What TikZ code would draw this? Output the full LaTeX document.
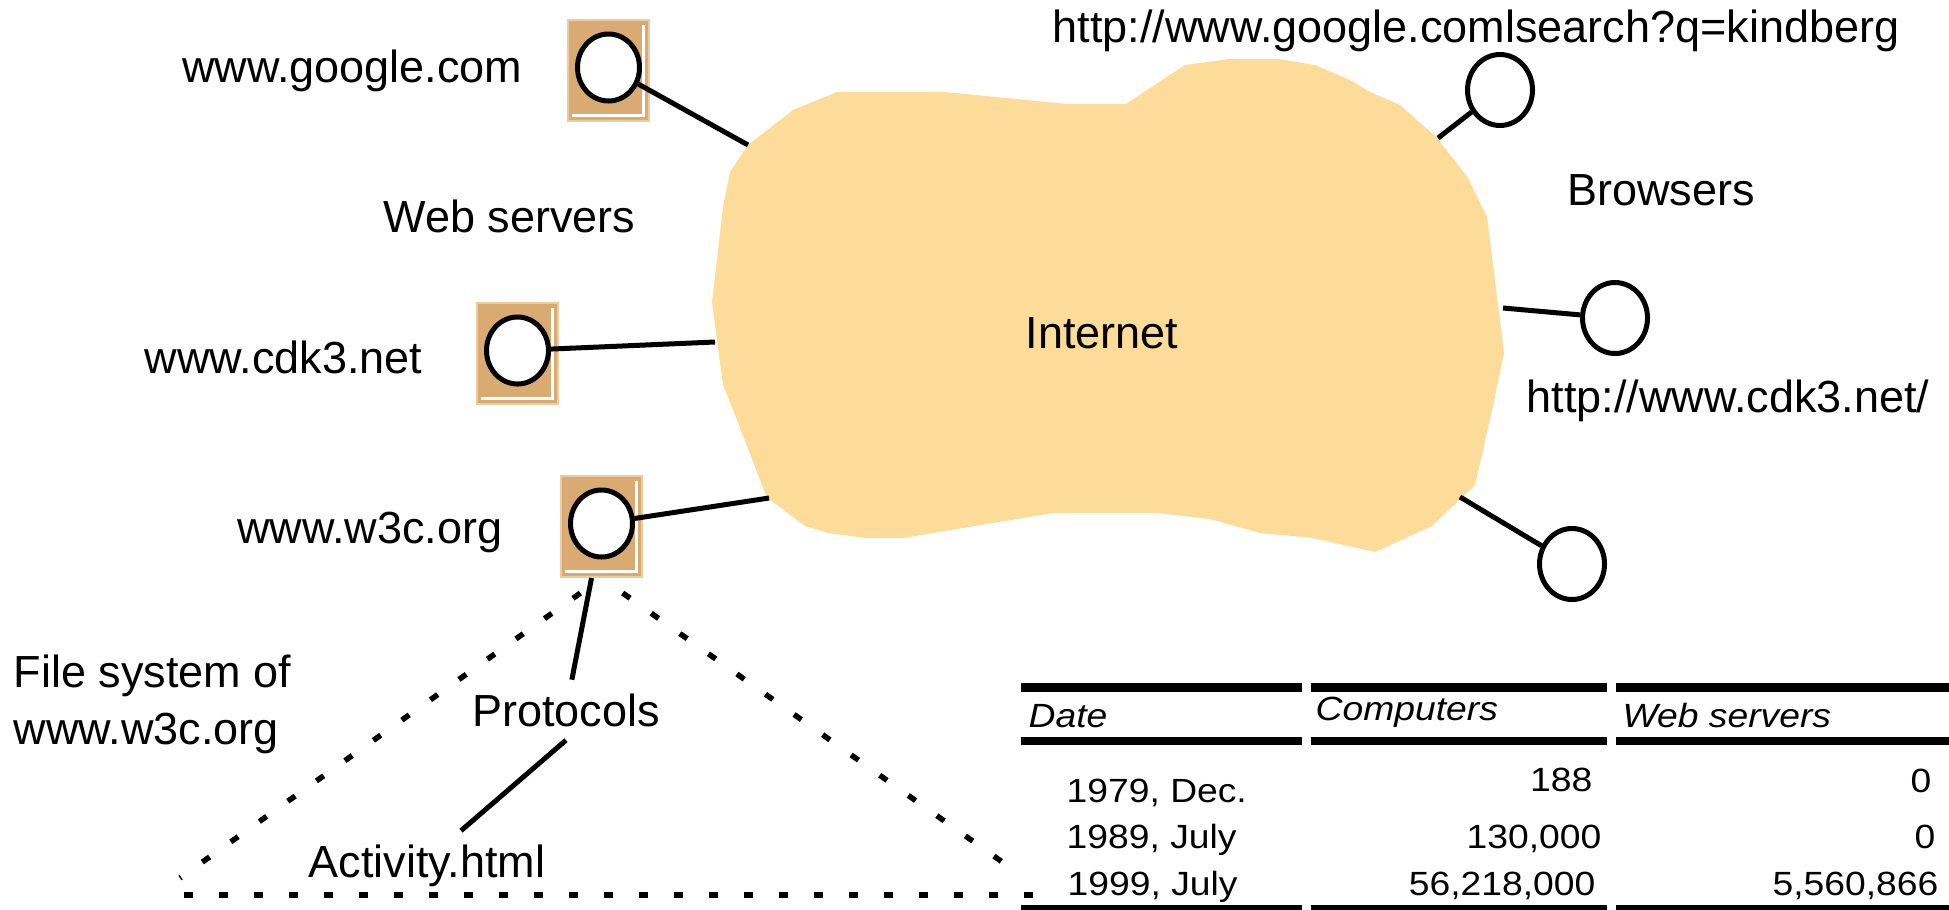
\documentclass[tikz,border=0pt]{standalone}
\usepackage{fontspec}
\setmainfont{Liberation Sans}
\newfontfamily\tabfont{Liberation Sans}[FakeStretch=1.11]
\usepackage{tkz-euclide}
\usetikzlibrary{shapes.geometric}
\definecolor{cloudfill}{HTML}{FDDB99}
\definecolor{srvfill}{HTML}{D9AA72}
\definecolor{srvline}{HTML}{EBCBA2}
\begin{document}
\begin{tikzpicture}[font=\fontsize{12.8}{16.4}\selectfont,
	srv/.style={rectangle,fill=srvfill,draw=srvline,line width=0.02cm,minimum width=0.81cm,minimum height=1.01cm,inner sep=0},
	lens/.style={ellipse,draw,fill=white,line width=0.05cm,minimum width=0.62cm,minimum height=0.67cm,inner sep=0},
	brw/.style={lens,minimum width=0.65cm,minimum height=0.71cm},
	glint/.style={white,line width=0.03cm},
	link/.style={line width=0.05cm},
	fsline/.style={line width=0.055cm,dash pattern=on 0.09cm off 0.26cm,dash phase=0.09cm},
	lbl/.style={inner sep=0},
	tab/.style={inner sep=0,font=\tabfont\fontsize{9.55}{11}\selectfont}]
	\useasboundingbox (0,0) rectangle (19.49,-9.09);
	\tkzDefPoints{6.085/-0.705/g,5.175/-3.535/c,6.015/-5.265/w,15.00/-0.90/b1,16.15/-3.18/b2,15.72/-5.64/b3}
	\tkzDefPoints{7.48/-1.45/cg,7.15/-3.42/cc,7.69/-4.98/cw,14.38/-1.38/cb1,15.03/-3.08/cb2,14.60/-4.97/cb3}
	\tkzDefPoints{1.80/-8.78/fl,10.22/-8.76/fr,1.58/-8.95/bl,10.56/-8.95/br}
	\fill[cloudfill] (8.37,-0.92) -- (9.45,-0.92) -- (10.67,-1.04) -- (11.26,-1.04) -- (11.85,-0.65) -- (12.29,-0.59) -- (12.78,-0.59) -- (13.15,-0.65) -- (13.48,-0.79) -- (13.70,-0.92) -- (14.00,-1.05) -- (14.37,-1.38) -- (14.68,-1.78) -- (14.87,-2.17) -- (15.04,-3.53) -- (14.92,-4.10) -- (14.75,-4.85) -- (14.32,-5.26) -- (13.75,-5.52) -- (13.13,-5.38) -- (12.60,-5.33) -- (12.10,-5.19) -- (11.57,-5.13) -- (10.53,-5.13) -- (9.03,-5.38) -- (8.65,-5.38) -- (8.28,-5.33) -- (8.05,-5.26) -- (7.80,-5.07) -- (7.67,-4.98) -- (7.37,-4.20) -- (7.23,-3.85) -- (7.12,-3.02) -- (7.23,-2.07) -- (7.30,-1.72) -- (7.48,-1.45) -- (7.93,-1.10) -- cycle;
	\node[lbl,anchor=base] (inet) at (11.02,-3.48) {Internet};
	\foreach \s in {g,c,w}{
		\node[srv] (box\s) at (\s) {};
		\draw[glint] ([shift={(-0.07,-0.06)}]box\s.north east) -- ([shift={(-0.07,0.07)}]box\s.south east) -- ([shift={(0.05,0.07)}]box\s.south west);
		\node[lens] (lens\s) at ([yshift=0.03cm]\s) {};
	}
	\foreach \i in {1,2,3}
		\node[brw] (brw\i) at (b\i) {};
	\node[lbl,anchor=base east] (lg) at (5.23,-0.82) {www.google.com};
	\node[lbl,anchor=base east] (lws) at (6.36,-2.32) {Web servers};
	\node[lbl,anchor=base east] (lc) at (4.23,-3.73) {www.cdk3.net};
	\node[lbl,anchor=base east] (lw) at (5.03,-5.43) {www.w3c.org};
	\node[lbl,anchor=north west,align=left] (lfs) at (0.13,-6.54) {File system of\\www.w3c.org};
	\node[lbl,anchor=base] (lbr) at (16.61,-2.05) {Browsers};
	\node[lbl,anchor=base west] (lurl1) at (10.52,-0.42) {http://www.google.comlsearch?q=kindberg};
	\node[lbl,anchor=base east] (lurl2) at (19.30,-4.12) {http://www.cdk3.net/};
	\node[inner sep=0.13cm,anchor=base] (proto) at (5.66,-7.26) {Protocols};
	\node[inner sep=0.13cm,anchor=base] (act) at (4.27,-8.77) {Activity.html};
	\draw[link] (lensg) -- (cg);
	\draw[link] (lensc) -- (cc);
	\draw[link] (lensw) -- (cw);
	\draw[link] (brw1) -- (cb1);
	\draw[link] (brw2) -- (cb2);
	\draw[link] (brw3) -- (cb3);
	\draw[link] (boxw) -- (proto);
	\draw[link] (proto.south) -- ([xshift=0.34cm]act.north);
	\draw[fsline] (boxw.south) -- (fl);
	\draw[fsline] (boxw.south) -- (fr);
	\draw[fsline] (bl) -- (br);
	\foreach \a/\b in {10.21/13.02,13.11/16.07,16.16/19.49}{
		\fill (\a,-6.83) rectangle (\b,-6.92);
		\fill (\a,-7.37) rectangle (\b,-7.45);
		\fill (\a,-9.05) rectangle (\b,-9.12);
	}
	\node[tab,anchor=base west] (hdate) at (10.28,-7.27) {\itshape Date};
	\node[tab,anchor=base west] (hcomp) at (13.15,-7.20) {\itshape Computers};
	\node[tab,anchor=base west] (hweb) at (16.22,-7.27) {\itshape Web servers};
	\node[tab,anchor=base west] (d1) at (10.66,-8.02) {1979, Dec.};
	\node[tab,anchor=base east] (c1) at (15.93,-7.91) {188};
	\node[tab,anchor=base east] (w1) at (19.32,-7.92) {0};
	\node[tab,anchor=base west] (d2) at (10.66,-8.48) {1989, July};
	\node[tab,anchor=base east] (c2) at (16.02,-8.48) {130,000};
	\node[tab,anchor=base east] (w2) at (19.36,-8.48) {0};
	\node[tab,anchor=base west] (d3) at (10.67,-8.95) {1999, July};
	\node[tab,anchor=base east] (c3) at (15.96,-8.95) {56,218,000};
	\node[tab,anchor=base east] (w3) at (19.39,-8.95) {5,560,866};
\end{tikzpicture}
\end{document}
